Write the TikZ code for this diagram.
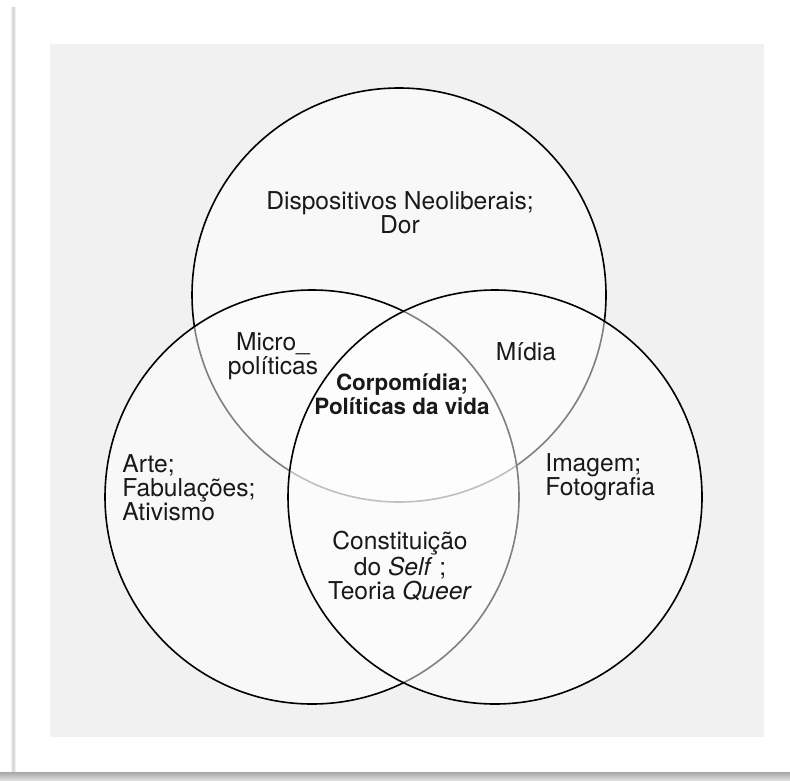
\documentclass[tikz,border=0pt]{standalone}
\usepackage{fontspec}
\setmainfont{TeX Gyre Heros}
\definecolor{panel}{HTML}{F1F1F1}
\begin{document}
\begin{tikzpicture}[line cap=round,line join=round,x=0.5pt,y=-0.5pt,
    venn/.style={draw=black,line width=0.8pt,fill=white,fill opacity=0.5},
    lbl/.style={font=\fontsize{12.3}{12}\selectfont,align=center,inner sep=0pt,text=black!90}]
  \useasboundingbox (0,0) rectangle (790,780);
  \fill[white] (0,0) rectangle (790,780);
  % card shadow
  \shade[left color=white,right color=gray!35] (10,8) rectangle (13,772);
  \shade[left color=gray!35,right color=white] (13,8) rectangle (16,772);
  \shade[top color=gray!70,bottom color=gray!25] (0,772) rectangle (790,780);
  % panel
  \fill[panel] (50,44) rectangle (764,737);
  % circles
  \draw[venn] (399,295) circle (207);
  \draw[venn] (312,497) circle (207);
  \draw[venn] (495,497) circle (207);
  % labels
  \node[lbl] (dor) at (400,213) {Dispositivos Neoliberais;\\Dor};
  \node[lbl] (micro) at (273,356) {Micro\_\\políticas};
  \node[lbl] (midia) at (526,352) {Mídia};
  \node[lbl,font=\fontsize{11.2}{12}\selectfont\bfseries] (corpo) at (402,394) {Corpomídia;\\Políticas da vida};
  \node[lbl,align=left,anchor=west] (arte) at (122,488) {Arte;\\Fabulações;\\Ativismo};
  \node[lbl,align=left,anchor=west] (imagem) at (545,477) {Imagem;\\Fotografia};
  \node[lbl] (self) at (400,566) {Constituição\\do \textit{Self} ;\\Teoria \textit{Queer}};
\end{tikzpicture}
\end{document}
